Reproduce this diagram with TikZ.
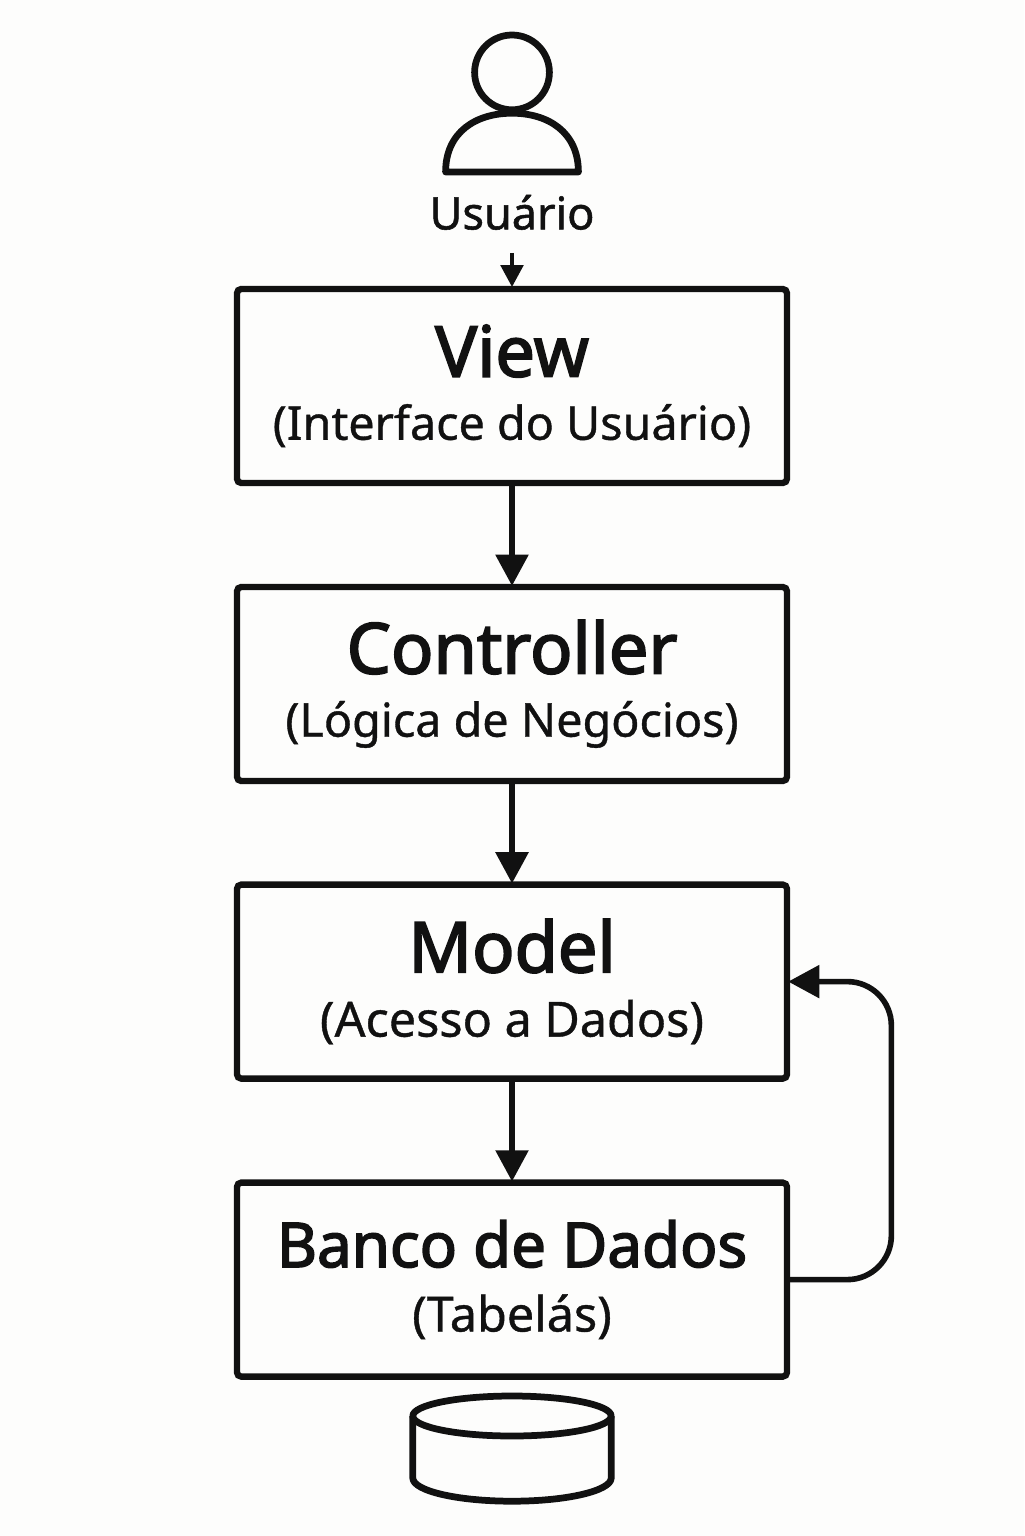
\documentclass[tikz,border=0pt]{standalone}
\usepackage{fontspec}
\setmainfont{Noto Sans}
\usetikzlibrary{arrows.meta}
\definecolor{mvcink}{RGB}{17, 17, 17}
\definecolor{mvcpaper}{RGB}{253, 253, 252}
\newcommand{\titletext}[2][50]{{\fontsize{#1}{54}\selectfont\addfontfeature{FakeBold=2.5}#2}}
\newcommand{\subtext}[2][33.2]{{\fontsize{#1}{40}\selectfont\addfontfeature{FakeBold=0.8}#2}}
\tikzset{
  mvcbox/.style={draw=mvcink, line width=4.5pt, rounded corners=3pt, minimum width=13.75cm, minimum height=4.85cm, align=center, text=mvcink},
  flowarrow/.style={draw=mvcink, line width=4pt, shorten >=-0.05cm, -{Triangle[width=0.8cm,length=0.78cm]}},
  iconline/.style={draw=mvcink, line width=4.8pt, line join=round}
}
\begin{document}
\begin{tikzpicture}
\fill[mvcpaper] (0,0) rectangle (25.6,-38.4);
\useasboundingbox (0,0) rectangle (25.6,-38.4);

% User icon
\node[iconline, circle, minimum size=1.87cm, inner sep=0pt] (head) at (12.8,-1.81) {};
\draw[iconline] (11.14,-4.3) .. controls (11.14,-3.3) and (11.9,-2.83) .. (12.8,-2.83) .. controls (13.7,-2.83) and (14.46,-3.3) .. (14.46,-4.3) -- cycle;
\node[text=mvcink, font=\fontsize{32}{38}\selectfont\addfontfeature{FakeBold=1.2}] (user) at (12.8,-5.31) {Usuário};

% Layers
\node[mvcbox] (view) at (12.8,-9.65) {\titletext{View}\\[18pt]\subtext{(Interface do Usuário)}};
\node[mvcbox] (controller) at (12.8,-17.1) {\titletext{Controller}\\[18pt]\subtext{(Lógica de Negócios)}};
\node[mvcbox] (model) at (12.8,-24.54) {\titletext{Model}\\[18pt]\subtext[34.5]{(Acesso a Dados)}};
\node[mvcbox] (db) at (12.8,-31.99) {\titletext[44]{Banco de Dados}\\[18pt]\subtext[34.5]{(Tabelás)}};

% Database icon
\draw[iconline] (12.8,-35.4) ellipse (2.48cm and 0.5cm);
\draw[iconline] (10.32,-35.4) -- (10.32,-36.95) arc (180:360:2.48cm and 0.58cm) -- (15.28,-35.4);

% Arrows
\draw[draw=mvcink, line width=3pt, shorten >=-0.03cm, -{Triangle[width=0.56cm,length=0.55cm]}, shorten <=0.45cm] (user.south) -- (view.north);
\draw[flowarrow] (view) -- (controller);
\draw[flowarrow] (controller) -- (model);
\draw[flowarrow] (model) -- (db);

% Feedback from the database
\draw[flowarrow, rounded corners=1.1cm] (db.east) -- ++(2.53,0) |- (model.east);
\end{tikzpicture}
\end{document}
